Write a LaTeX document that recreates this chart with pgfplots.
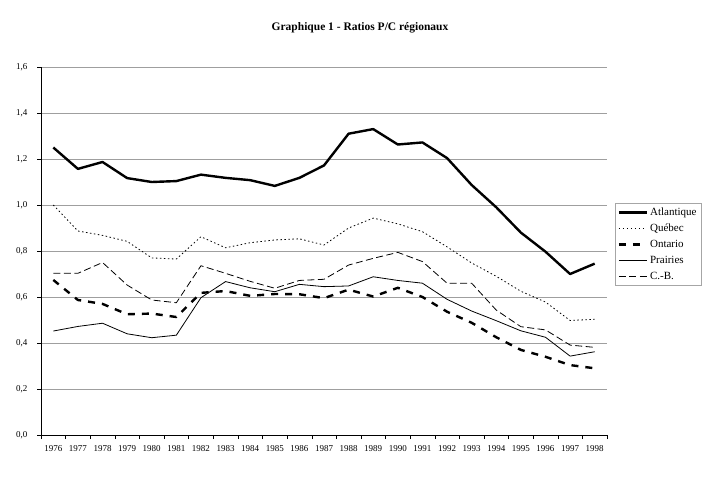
\documentclass[border=0pt]{standalone}
\usepackage{fontspec}
\setmainfont{Liberation Serif}
\usepackage{pgfplots}
\pgfplotsset{compat=1.18}

% Ratios P/C par région, 1976-1998 (positions 0..22)
\pgfplotstableread{
i Atl Que Ont Pra CB
0  1.250 1.000 0.674 0.452 0.703
1  1.157 0.887 0.587 0.472 0.703
2  1.187 0.868 0.570 0.486 0.750
3  1.117 0.842 0.525 0.440 0.652
4  1.100 0.770 0.528 0.423 0.587
5  1.104 0.765 0.513 0.434 0.575
6  1.132 0.862 0.618 0.597 0.736
7  1.118 0.814 0.626 0.667 0.703
8  1.108 0.836 0.605 0.640 0.668
9  1.083 0.848 0.613 0.623 0.638
10 1.118 0.853 0.612 0.655 0.672
11 1.172 0.826 0.595 0.645 0.677
12 1.310 0.900 0.632 0.648 0.739
13 1.330 0.943 0.602 0.688 0.768
14 1.263 0.918 0.640 0.672 0.794
15 1.272 0.884 0.600 0.660 0.754
16 1.204 0.818 0.536 0.590 0.660
17 1.087 0.748 0.488 0.539 0.660
18 0.990 0.690 0.425 0.497 0.543
19 0.880 0.625 0.370 0.453 0.471
20 0.797 0.578 0.340 0.425 0.457
21 0.700 0.498 0.304 0.343 0.391
22 0.745 0.503 0.290 0.362 0.381
}\ratios

\begin{document}
\begin{tikzpicture}
\path[use as bounding box] (0pt,0pt) rectangle (711pt,479pt);
\node[font=\bfseries\fontsize{11.5}{13}\selectfont] at (360pt,451pt) {Graphique 1 - Ratios P/C régionaux};
\begin{axis}[
  at={(41pt,44pt)}, anchor=south west,
  scale only axis, width=566pt, height=368pt,
  xmin=-0.5, xmax=22.5, ymin=0, ymax=1.6,
  axis x line*=bottom, axis y line*=left,
  axis line style={black, line width=0.5pt},
  xtick={0,...,22},
  xticklabels={1976,1977,1978,1979,1980,1981,1982,1983,1984,1985,1986,1987,1988,1989,1990,1991,1992,1993,1994,1995,1996,1997,1998},
  major x tick style={draw=none},
  minor xtick={-0.5,0.5,...,22.5},
  minor tick length=4pt,
  ytick={0,0.2,...,1.6},
  major tick length=4pt,
  tick align=outside,
  tick style={black, line width=0.4pt},
  ymajorgrids,
  grid style={gray!75, line width=0.5pt},
  tick label style={font=\fontsize{9}{10}\selectfont},
  xticklabel style={yshift=-3pt},
  yticklabel style={xshift=-6pt},
  /pgf/number format/assume math mode=true,
  yticklabel={\pgfmathprintnumber[fixed, fixed zerofill, precision=1, use comma]{\tick}},
  legend style={at={(rel axis cs:1.014,0.630)}, anchor=north west,
    draw=gray!70, line width=0.5pt, font=\fontsize{11}{12}\selectfont,
    row sep=3pt, inner sep=2.5pt, cells={anchor=west}},
  legend image code/.code={\draw[#1] (0pt,0pt) -- (28pt,0pt);},
  every axis plot/.append style={black, line join=round},
]
\addplot[line width=2.4pt] table[x=i, y=Atl] {\ratios};
\addlegendentry{Atlantique}
\addplot[line width=0.8pt, dash pattern=on 1.5pt off 2.5pt] table[x=i, y=Que] {\ratios};
\addlegendentry{Québec}
\addplot[line width=2.4pt, dash pattern=on 7pt off 7pt] table[x=i, y=Ont] {\ratios};
\addlegendentry{Ontario}
\addplot[line width=0.8pt] table[x=i, y=Pra] {\ratios};
\addlegendentry{Prairies}
\addplot[line width=0.8pt, dash pattern=on 7pt off 3.5pt] table[x=i, y=CB] {\ratios};
\addlegendentry{C.-B.}
\end{axis}
\end{tikzpicture}
\end{document}
